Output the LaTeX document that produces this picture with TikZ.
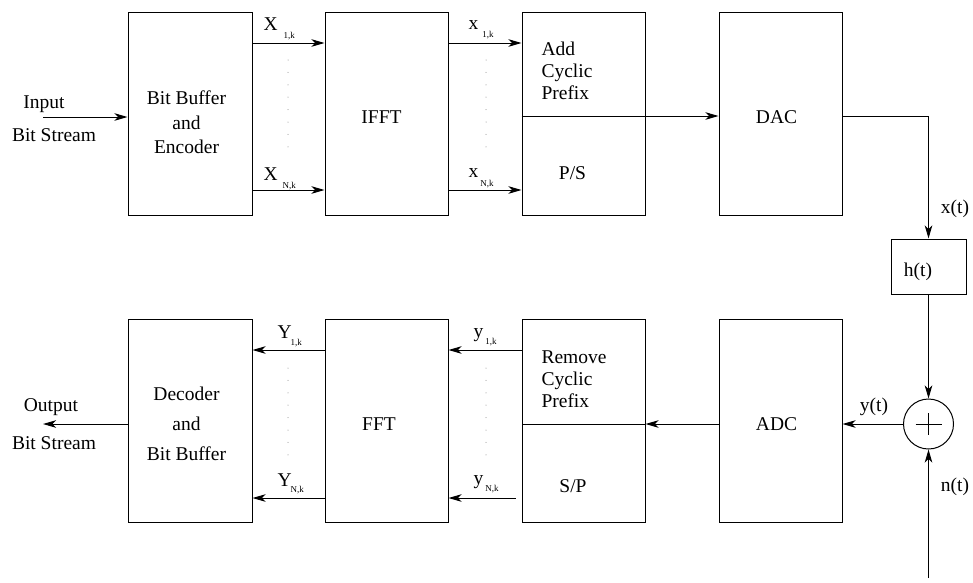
\documentclass[tikz,border=0pt]{standalone}
\usepackage{fontspec}
\setmainfont{Liberation Serif}
\usetikzlibrary{arrows.meta,calc}
\newcommand{\subsz}{\fontsize{9}{9}\selectfont}
\newcommand{\sublab}[4]{#1\kern#3pt\raisebox{-#4pt}{\subsz #2}}
\begin{document}
\begin{tikzpicture}[x=1pt,y=-1pt,
  font=\rmfamily\fontsize{19.5}{23}\selectfont, line width=1pt,
  >={Stealth[length=13pt,width=7.5pt,inset=3.5pt]},
  blk/.style={draw, minimum width=123pt, minimum height=203pt, inner sep=0pt},
  lbl/.style={inner sep=0pt},
  sublbl/.style={inner sep=0pt, anchor=base west},
  arr/.style={->},
  dotv/.style={draw=gray, line width=1pt, line cap=round, dash pattern=on 0pt off 12.4pt}]
\fill[white] (0,0) rectangle (973,582);
\useasboundingbox (0,0) rectangle (973,582);

% blocks
\node[blk, minimum width=124pt] (enc) at (190,113.5) {};
\node[blk] (ifft) at (386.5,113.5) {};
\node[blk] (acp) at (583.5,113.5) {};
\node[blk] (dac) at (780.5,113.5) {};
\node[blk, minimum width=124pt] (dec) at (190,420.5) {};
\node[blk] (fft) at (386.5,420.5) {};
\node[blk] (rcp) at (583.5,420.5) {};
\node[blk] (adc) at (780.5,420.5) {};
\node[draw, minimum width=75pt, minimum height=55pt, inner sep=0pt] (h) at (928.5,266.5) {};
\node[draw, circle, minimum size=50pt, inner sep=0pt] (add) at (928.5,424) {};

% texts
\node[lbl, align=center, font=\rmfamily\fontsize{19.5}{24.5}\selectfont] (tenc) at (186.5,122.5) {Bit Buffer\\and\\Encoder};
\node[lbl] (tifft) at (381.5,117) {IFFT};
\node[lbl, align=left, anchor=west, font=\rmfamily\fontsize{19.5}{22}\selectfont] (tacp) at (541,71) {Add\\Cyclic\\Prefix};
\node[lbl] (tps) at (572.5,173) {P/S};
\node[lbl] (tdac) at (776.5,117) {DAC};
\node[lbl, align=center, font=\rmfamily\fontsize{19.5}{30}\selectfont] (tdec) at (186.5,424) {Decoder\\and\\Bit Buffer};
\node[lbl] (tfft) at (379,424) {FFT};
\node[lbl, align=left, anchor=west, font=\rmfamily\fontsize{19.5}{22}\selectfont] (trcp) at (541,379) {Remove\\Cyclic\\Prefix};
\node[lbl] (tsp) at (573,486) {S/P};
\node[lbl] (tadc) at (776.5,424) {ADC};
\node[lbl] (th) at (918,272) {h(t)};
\node[lbl] (tx) at (955,209) {x(t)};
\node[lbl] (ty) at (874,407) {y(t)};
\node[lbl] (tn) at (955,487) {n(t)};
\node[lbl] (tin1) at (44,104) {Input};
\node[lbl] (tin2) at (54,135) {Bit Stream};
\node[lbl] (tout1) at (51,407) {Output};
\node[lbl] (tout2) at (54,443) {Bit Stream};

% subscripted labels
\node[sublbl] (lX1) at (263,30) {\sublab{X}{1,k}{6}{8}};
\node[sublbl] (lXN) at (263,180) {\sublab{X}{N,k}{5}{8}};
\node[sublbl] (lx1) at (468,29.5) {\sublab{x}{1,k}{4}{7.5}};
\node[sublbl] (lxN) at (468,177.5) {\sublab{x}{N,k}{2}{8.5}};
\node[sublbl] (lY1) at (277,338.5) {\sublab{Y}{1,k}{-1}{6.5}};
\node[sublbl] (lYN) at (277,486.5) {\sublab{Y}{N,k}{-1}{5.5}};
\node[sublbl] (ly1) at (473,337.5) {\sublab{y}{1,k}{2}{6.5}};
\node[sublbl] (lyN) at (473,484.5) {\sublab{y}{N,k}{2}{6.5}};

% free ends
\coordinate (inp) at (43,117);
\coordinate (outp) at (43,424);
\coordinate (nsrc) at (928.5,578);

% connectors, transmitter
\draw[arr] (inp) -- (inp -| enc.west);
\draw[arr] ([yshift=70.5pt]enc.east) -- ([yshift=70.5pt]ifft.west);
\draw[arr] ([yshift=-76.5pt]enc.east) -- ([yshift=-76.5pt]ifft.west);
\draw[arr] ([yshift=70.5pt]ifft.east) -- ([yshift=70.5pt]acp.west);
\draw[arr] ([yshift=-76.5pt]ifft.east) -- ([yshift=-76.5pt]acp.west);
\draw ([yshift=-2.5pt]acp.west) -- ([yshift=-2.5pt]acp.east);
\draw[arr] ([yshift=-2.5pt]acp.east) -- ([yshift=-2.5pt]dac.west);
\draw[arr] ([yshift=-2.5pt]dac.east) -| (h.north);
\draw[arr] (h.south) -- (add.north);
\draw[arr] (nsrc) -- (add.south);
\draw ([xshift=-13pt]add.center) -- ([xshift=13pt]add.center);
\draw ([yshift=11pt]add.center) -- ([yshift=-11pt]add.center);

% receiver
\draw[arr] (add.west) -- (add.west -| adc.east);
\draw[arr] ([yshift=-3.5pt]adc.west) -- ([yshift=-3.5pt]rcp.east);
\draw ([yshift=-3.5pt]rcp.east) -- ([yshift=-3.5pt]rcp.west);
\draw[arr] ([yshift=70.5pt]rcp.west) -- ([yshift=70.5pt]fft.east);
\draw[arr] ([xshift=-6pt,yshift=-77.5pt]rcp.west) -- ([yshift=-77.5pt]fft.east);
\draw[arr] ([yshift=70.5pt]fft.west) -- ([yshift=70.5pt]dec.east);
\draw[arr] ([yshift=-77.5pt]fft.west) -- ([yshift=-77.5pt]dec.east);
\draw[arr] ([yshift=-3.5pt]dec.west) -- (outp);

% dotted lines
\draw[dotv] (288,60) -- (288,147);
\draw[dotv] (486,60) -- (486,147);
\draw[dotv] (288,368) -- (288,455);
\draw[dotv] (486,368) -- (486,455);
\end{tikzpicture}
\end{document}
